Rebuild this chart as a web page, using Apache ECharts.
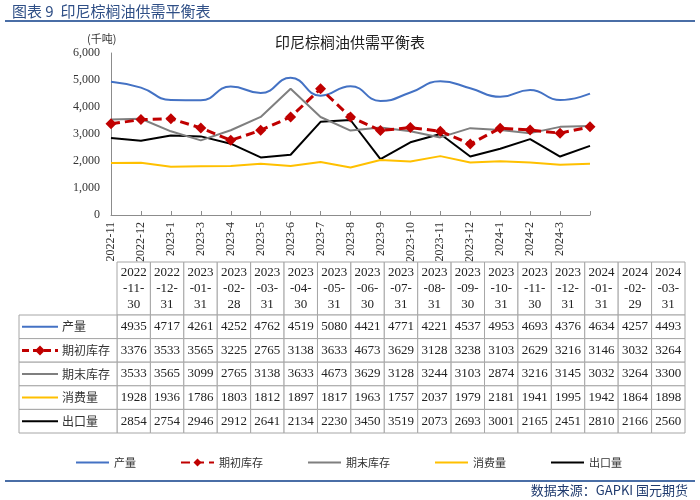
<!DOCTYPE html>
<html><head><meta charset="utf-8">
<script src="https://cdn.jsdelivr.net/npm/echarts@6/dist/echarts.min.js"></script>
<style>html,body{margin:0;padding:0;background:#fff}#c{width:700px;height:500px}</style>
</head><body><div id="c"></div>
<script>
// ---- data ----
const dates = ['2022-11-30','2022-12-31','2023-01-31','2023-02-28','2023-03-31','2023-04-30','2023-05-31','2023-06-30','2023-07-31','2023-08-31','2023-09-30','2023-10-31','2023-11-30','2023-12-31','2024-01-31','2024-02-29','2024-03-31'];
const axisLabels = ['2022-11','2022-12','2023-1','2023-3','2023-4','2023-5','2023-6','2023-7','2023-8','2023-9','2023-10','2023-11','2023-12','2024-1','2024-2','2024-3'];
const seriesNames = ['产量','期初库存','期末库存','消费量','出口量'];
const production   = [4935,4717,4261,4252,4762,4519,5080,4421,4771,4221,4537,4953,4693,4376,4634,4257,4493];
const openingStock = [3376,3533,3565,3225,2765,3138,3633,4673,3629,3128,3238,3103,2629,3216,3146,3032,3264];
const closingStock = [3533,3565,3099,2765,3138,3633,4673,3629,3128,3244,3103,2874,3216,3145,3032,3264,3300];
const consumption  = [1928,1936,1786,1803,1812,1897,1817,1963,1757,2037,1979,2181,1941,1995,1942,1864,1898];
const exportsVol   = [2854,2754,2946,2912,2641,2134,2230,3450,3519,2073,2693,3001,2165,2451,2810,2166,2560];
const yMin = 0, yMax = 6000, yStep = 1000;

// ---- styles ----
const rows = [production, openingStock, closingStock, consumption, exportsVol];
const colors = ['#4472c4','#c00000','#7f7f7f','#ffc000','#000000'];
const serif = '"Liberation Serif","Times New Roman",serif';
const cjk = '"Noto Sans CJK SC","Noto Sans",sans-serif';
const gridColor = '#a6a6a6';

const chart = echarts.init(document.getElementById('c'), null, {renderer:'canvas'});

function cellRect(api, i, j) {
  const p = api.coord([i, j]);
  const s = api.size([1, 1]);
  return {x: p[0] - s[0] / 2, y: p[1] - s[1] / 2, width: s[0], height: s[1]};
}

function headerItem(params, api) {
  const i = api.value(0);
  const parts = dates[i].split('-');
  return {
    type: 'rect', shape: cellRect(api, i, 0),
    style: {fill: '#fff', stroke: gridColor, lineWidth: 1},
    textContent: {style: {text: parts[0] + '\n-' + parts[1] + '-\n' + parts[2], fill: '#222', font: '13px ' + serif, align: 'center', verticalAlign: 'middle', lineHeight: 16}},
    textConfig: {position: 'inside'}
  };
}

function bodyItem(params, api) {
  const i = api.value(0), j = api.value(1);
  return {
    type: 'rect', shape: cellRect(api, i, j),
    style: {fill: '#fff', stroke: gridColor, lineWidth: 1},
    textContent: {style: {text: String(api.value(2)), fill: '#222', font: '13px ' + serif, align: 'center', verticalAlign: 'middle'}},
    textConfig: {position: 'inside'}
  };
}

function legendColItem(params, api) {
  const j = api.value(1);
  const r = cellRect(api, 0, j);
  const cy = r.y + r.height / 2;
  const x0 = r.x + 3, x1 = r.x + 39;
  const children = [
    {type: 'rect', shape: r, style: {fill: '#fff', stroke: gridColor, lineWidth: 1}},
    {type: 'line', shape: {x1: x0, y1: cy, x2: x1, y2: cy},
     style: {stroke: colors[j], lineWidth: j === 1 ? 3 : 2, lineDash: j === 1 ? [7, 4] : null}}
  ];
  if (j === 1) {
    const cx = (x0 + x1) / 2;
    children.push({type: 'polygon', shape: {points: [[cx, cy - 5], [cx + 5, cy], [cx, cy + 5], [cx - 5, cy]]}, style: {fill: colors[1]}});
  }
  children.push({type: 'text', style: {text: seriesNames[j], x: x1 + 4, y: cy, font: '12px ' + cjk, fill: '#333', verticalAlign: 'middle', align: 'left'}});
  return {type: 'group', children: children};
}

const lineSeries = seriesNames.map((name, k) => {
  const s = {
    name: name, type: 'line', xAxisIndex: 0, yAxisIndex: 0, data: rows[k],
    symbol: 'none', lineStyle: {color: colors[k], width: 2}, itemStyle: {color: colors[k]}, z: 5 - k + 2
  };
  if (k === 0) s.smooth = 0.5;
  if (k === 1) {
    s.symbol = 'diamond'; s.symbolSize = 11; s.showSymbol = true;
    s.lineStyle = {color: colors[1], width: 3, type: [9, 5]};
    s.z = 8;
  }
  return s;
});

const idx = dates.map((d, i) => i);

const option = {
  animation: false,
  backgroundColor: '#fff',
  title: [
    {text: '图表 9  印尼棕榈油供需平衡表', left: 12, top: 4, padding: 0, textStyle: {fontFamily: cjk, fontSize: 15, fontWeight: 'normal', color: '#2f4f86'}},
    {text: '印尼棕榈油供需平衡表', left: 'center', top: 35, padding: 0, textStyle: {fontFamily: cjk, fontSize: 15, fontWeight: 'normal', color: '#222'}},
    {text: '(千吨)', left: 87, top: 33, padding: 0, textStyle: {fontFamily: cjk, fontSize: 11, fontWeight: 'normal', color: '#333'}},
    {text: '数据来源：GAPKI 国元期货', right: 12, top: 484, padding: 0, textStyle: {fontFamily: cjk, fontSize: 13, fontWeight: 'normal', color: '#1f3a6e'}}
  ],
  graphic: [
    {type: 'line', shape: {x1: 5, y1: 21, x2: 695, y2: 21}, style: {stroke: '#4a6ea6', lineWidth: 2}},
    {type: 'line', shape: {x1: 5, y1: 481, x2: 695, y2: 481}, style: {stroke: '#4a6ea6', lineWidth: 2}}
  ],
  legend: {
    data: seriesNames.map((n, k) => k === 1 ? {name: n} : {name: n, itemStyle: {opacity: 0}}),
    left: 75, top: 457, padding: 0, itemWidth: 33, itemHeight: 10, itemGap: 44,
    textStyle: {fontFamily: cjk, fontSize: 11, color: '#333'}
  },
  grid: [
    {left: 111, top: 53, width: 479, height: 162},
    {left: 117, top: 262, width: 568, height: 53},
    {left: 117, top: 315, width: 568, height: 118},
    {left: 19, top: 315, width: 98, height: 118}
  ],
  xAxis: [
    {type: 'category', gridIndex: 0, data: dates, boundaryGap: false,
     axisLine: {lineStyle: {color: '#8c8c8c'}},
     axisTick: {inside: true, length: 4, lineStyle: {color: '#8c8c8c'}},
     axisLabel: {interval: 0, rotate: 90, margin: 7, fontFamily: serif, fontSize: 12, color: '#333',
                 formatter: (v, i) => axisLabels[i] !== undefined ? axisLabels[i] : ''}},
    {type: 'category', gridIndex: 1, data: idx, show: false},
    {type: 'category', gridIndex: 2, data: idx, show: false},
    {type: 'category', gridIndex: 3, data: [0], show: false}
  ],
  yAxis: [
    {type: 'value', gridIndex: 0, min: yMin, max: yMax, interval: yStep,
     axisLine: {show: true, lineStyle: {color: '#8c8c8c'}}, axisTick: {show: false}, splitLine: {show: false},
     axisLabel: {margin: 11, fontFamily: serif, fontSize: 12, color: '#333', formatter: v => v.toLocaleString('en-US')}},
    {type: 'category', gridIndex: 1, data: [0], show: false},
    {type: 'category', gridIndex: 2, data: seriesNames, inverse: true, show: false},
    {type: 'category', gridIndex: 3, data: seriesNames, inverse: true, show: false}
  ],
  series: lineSeries.concat([
    {name: 'tableHeader', type: 'custom', xAxisIndex: 1, yAxisIndex: 1, renderItem: headerItem,
     data: idx.map(i => [i, 0]), silent: true},
    {name: 'tableBody', type: 'custom', xAxisIndex: 2, yAxisIndex: 2, renderItem: bodyItem,
     data: rows.flatMap((r, j) => r.map((v, i) => [i, j, v])), silent: true},
    {name: 'tableLegend', type: 'custom', xAxisIndex: 3, yAxisIndex: 3, renderItem: legendColItem,
     data: seriesNames.map((n, j) => [0, j]), silent: true}
  ])
};
chart.setOption(option);
</script>
</body></html>
